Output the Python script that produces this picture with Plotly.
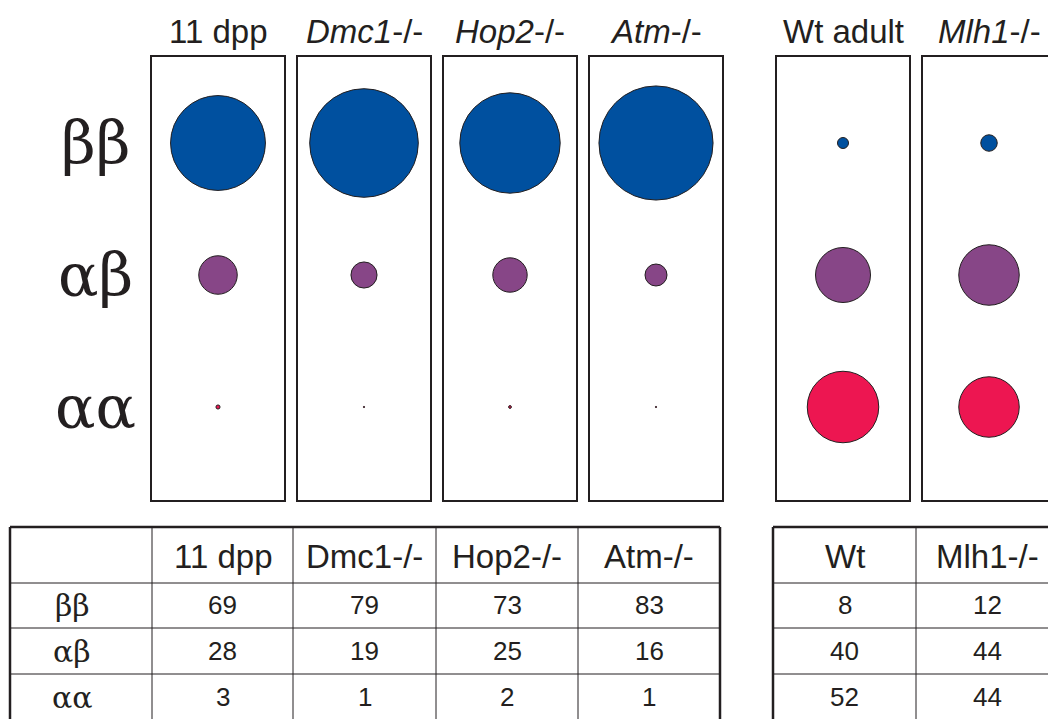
import plotly.graph_objects as go

# ---- data -------------------------------------------------------------
groups = ["11 dpp", "Dmc1-/-", "Hop2-/-", "Atm-/-", "Wt adult", "Mlh1-/-"]
group_titles = ["11 dpp", "<i>Dmc1</i>-/-", "<i>Hop2</i>-/-", "<i>Atm</i>-/-",
                "Wt adult", "<i>Mlh1</i>-/-"]
table_headers = ["11 dpp", "Dmc1-/-", "Hop2-/-", "Atm-/-", "Wt", "Mlh1-/-"]
rows = ["ββ", "αβ", "αα"]
bb = [69, 79, 73, 83, 8, 12]
ab = [28, 19, 25, 16, 40, 44]
aa = [3, 1, 2, 1, 52, 44]
row_colors = ["#00509f", "#874687", "#ed1651"]

# ---- layout geometry (pixels) -----------------------------------------
W, H = 1048, 719
panel_left = [152, 298, 444, 590, 777, 923]
panel_w = 132
panel_top, panel_bot = 57, 500
row_y = [143, 275, 407]
px_per_unit = 1.375          # circle diameter per percent
ink = "#231f20"

fig = go.Figure()

values = [bb, ab, aa]
for i, g in enumerate(groups):
    ax = "" if i == 0 else str(i + 1)
    left = panel_left[i]
    right = min(left + panel_w, W)
    vals = [v[i] for v in values]
    fig.add_trace(go.Scatter(
        x=[0, 0, 0], y=rows, mode="markers",
        xaxis="x" + ax, yaxis="y" + ax,
        marker=dict(size=[v * px_per_unit for v in vals], sizemode="diameter",
                    color=row_colors, line=dict(color=ink, width=1), opacity=1),
        name=g, showlegend=False, hoverinfo="skip"))
    half = panel_w / 2
    xr = [-half, (right - left) - half]
    row_step = row_y[1] - row_y[0]
    y_lo = -(row_y[0] - panel_top) / row_step
    y_hi = 2 + (panel_bot - row_y[2]) / row_step
    fig.update_layout(**{
        "xaxis" + ax: dict(domain=[left / W, right / W], range=xr,
                           showline=True, mirror=True, linecolor=ink, linewidth=2,
                           showgrid=False, zeroline=False, showticklabels=False,
                           ticks="", fixedrange=True),
        "yaxis" + ax: dict(domain=[1 - panel_bot / H, 1 - panel_top / H],
                           type="category", categoryarray=rows,
                           range=[y_hi, y_lo], anchor="x" + ax,
                           showline=True, mirror=(right - left == panel_w),
                           linecolor=ink, linewidth=2,
                           showgrid=False, zeroline=False, showticklabels=False,
                           ticks="", fixedrange=True),
    })
    fig.layout["xaxis" + ax].anchor = "y" + ax

# overlay pixel axis for the titles and the table
fig.update_layout(
    xaxis7=dict(domain=[0, 1], range=[0, W], visible=False, fixedrange=True),
    yaxis7=dict(domain=[0, 1], range=[H, 0], visible=False, fixedrange=True,
                anchor="x7"),
)
fig.layout.xaxis7.anchor = "y7"
fig.add_trace(go.Scatter(x=[0], y=[0], xaxis="x7", yaxis="y7", mode="markers",
                         marker=dict(size=1, opacity=0), showlegend=False,
                         hoverinfo="skip"))

annotations = []
sans = "Liberation Sans, Arial, sans-serif"
serif = "DejaVu Serif, Liberation Serif, serif"

# column titles above the panels
for i, t in enumerate(group_titles):
    annotations.append(dict(x=panel_left[i] + panel_w / 2, y=31, xref="x7", yref="y7",
                            text=t, showarrow=False,
                            font=dict(family=sans, size=33, color=ink)))
# row labels
for r, y in zip(rows, row_y):
    annotations.append(dict(x=95, y=y, xref="x7", yref="y7", text=r, showarrow=False,
                            font=dict(family=serif, size=60, color=ink)))

# ---- table --------------------------------------------------------------
t_top = 527
row_edges = [527, 583, 628, 674]
tab1_cols = [10, 152, 293, 436, 578, 720]
tab2_cols = [773, 916, 1059]
shapes = []


def hline(x0, x1, y, w):
    shapes.append(dict(type="line", xref="x7", yref="y7", x0=x0, x1=x1, y0=y, y1=y,
                       line=dict(color=ink, width=w)))


def vline(x, y0, y1, w):
    shapes.append(dict(type="line", xref="x7", yref="y7", x0=x, x1=x, y0=y0, y1=y1,
                       line=dict(color=ink, width=w)))


for cols in (tab1_cols, tab2_cols):
    hline(cols[0], cols[-1] + 20 * (cols is tab2_cols), t_top, 2.5)
    for y in row_edges[1:]:
        hline(cols[0], cols[-1] + 20 * (cols is tab2_cols), y, 1)
    vline(cols[0], t_top, H + 10, 2.5)
    for x in cols[1:-1]:
        vline(x, t_top, H + 10, 1)
vline(tab1_cols[-1], t_top, H + 10, 2.5)

# table text
col_centers = [(tab1_cols[k] + tab1_cols[k + 1]) / 2 for k in range(5)] + \
              [(tab2_cols[k] + tab2_cols[k + 1]) / 2 for k in range(2)]
row_centers = [556, 605, 651, 697]

data_cols = col_centers[1:]
for j, h in enumerate(table_headers):
    annotations.append(dict(x=data_cols[j], y=row_centers[0], xref="x7", yref="y7",
                            text=h, showarrow=False,
                            font=dict(family=sans, size=33, color=ink)))
for r, (lab, vals) in enumerate(zip(rows, values)):
    annotations.append(dict(x=72, y=row_centers[r + 1], xref="x7", yref="y7",
                            text=lab, showarrow=False,
                            font=dict(family=serif, size=30, color=ink)))
    for j, v in enumerate(vals):
        annotations.append(dict(x=data_cols[j], y=row_centers[r + 1], xref="x7", yref="y7",
                                text=str(v), showarrow=False,
                                font=dict(family=sans, size=26, color=ink)))

fig.update_layout(width=W, height=H, margin=dict(l=0, r=0, t=0, b=0),
                  paper_bgcolor="white", plot_bgcolor="rgba(0,0,0,0)",
                  annotations=annotations, shapes=shapes, showlegend=False)

fig.write_html("out.html", config={"displayModeBar": False})
